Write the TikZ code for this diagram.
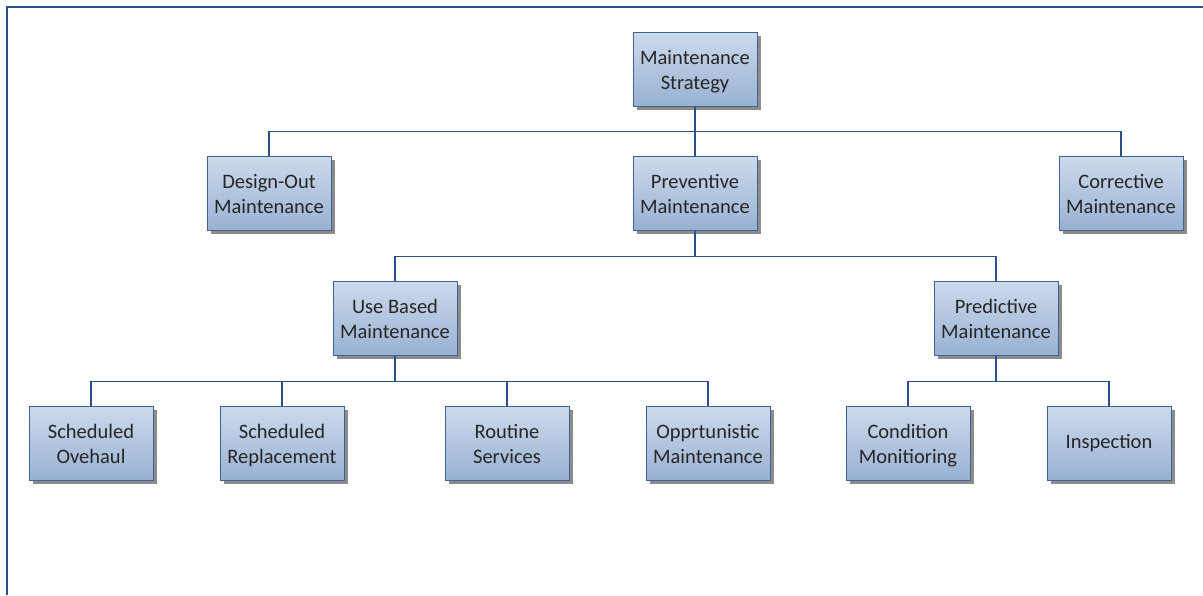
\documentclass[tikz,border=0pt]{standalone}
\usepackage{fontspec}
\setmainfont{Carlito}
\usetikzlibrary{positioning, shadows}

\definecolor{boxtop}{RGB}{205,218,236}
\definecolor{boxbot}{RGB}{152,177,210}
\definecolor{boxrim}{RGB}{63,98,146}
\definecolor{linkblue}{RGB}{44,79,135}

% two lines of box text, evenly set and a little lower in the box
\newcommand{\boxlines}[2]{\rule{0pt}{23.5pt}#1\\\strut#2}

\tikzset{
  box/.style={rectangle, draw=boxrim, line width=1pt,
    top color=boxtop, bottom color=boxbot,
    minimum width=124pt, minimum height=74pt, inner sep=0pt,
    align=center, font=\fontsize{20.5}{25}\selectfont, text=black!85,
    drop shadow={shadow xshift=4pt, shadow yshift=-4pt, fill=black!45, opacity=1}},
  link/.style={draw=linkblue, line width=1.6pt}
}

\begin{document}
\begin{tikzpicture}[x=1pt, y=-1pt]
\useasboundingbox (0,0) rectangle (1203,595);
\draw[linkblue, line width=2pt] (1203,7) -- (7,7) -- (7,595);

\node[box] (strategy) at (695,69) {\boxlines{Maintenance}{Strategy}};
\node[box] (designout) at (269,193) {\boxlines{Design-Out}{Maintenance}};
\node[box] (preventive) at (695,193) {\boxlines{Preventive}{Maintenance}};
\node[box] (corrective) at (1121,193) {\boxlines{Corrective}{Maintenance}};
\node[box] (usebased) at (395,318) {\boxlines{Use Based}{Maintenance}};
\node[box] (predictive) at (996,318) {\boxlines{Predictive}{Maintenance}};
\node[box] (overhaul) at (91,443) {\boxlines{Scheduled}{Ovehaul}};
\node[box] (replacement) at (282,443) {\boxlines{Scheduled}{Replacement}};
\node[box] (routine) at (507,443) {\boxlines{Routine}{Services}};
\node[box] (opportunistic) at (708,443) {\boxlines{Opprtunistic}{Maintenance}};
\node[box] (condition) at (908,443) {\boxlines{Condition}{Monitioring}};
\node[box] (inspection) at (1109,443) {\strut Inspection};

\draw[link]
    (strategy.south) -- ++(0,25) -| (designout.north)
    (strategy.south) -- ++(0,25) -| (corrective.north)
    (strategy.south) -- (preventive.north)
    (preventive.south) -- ++(0,26) -| (usebased.north)
    (preventive.south) -- ++(0,26) -| (predictive.north)
    (usebased.south) -- ++(0,26) -| (overhaul.north)
    (usebased.south) -- ++(0,26) -| (replacement.north)
    (usebased.south) -- ++(0,26) -| (routine.north)
    (usebased.south) -- ++(0,26) -| (opportunistic.north)
    (predictive.south) -- ++(0,26) -| (condition.north)
    (predictive.south) -- ++(0,26) -| (inspection.north);
\end{tikzpicture}
\end{document}
